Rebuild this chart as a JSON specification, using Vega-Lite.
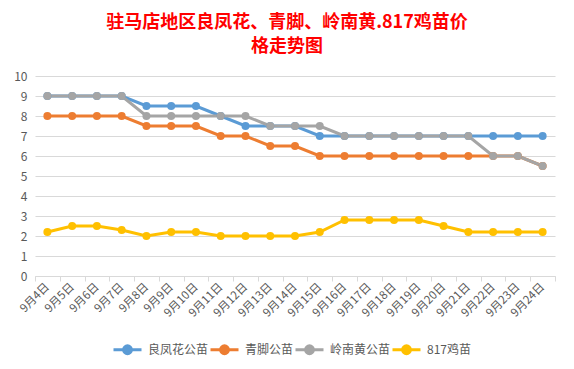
{
  "$schema": "https://vega.github.io/schema/vega-lite/v6.json",
  "autosize": "none",
  "width": 520,
  "height": 200,
  "padding": {"left": 35, "top": 76, "right": 19, "bottom": 93},
  "background": "white",
  "config": {
    "font": "Noto Sans CJK SC",
    "view": {"stroke": null}
  },
  "title": {
    "text": ["驻马店地区良凤花、青脚、岭南黄.817鸡苗价", "格走势图"],
    "fontSize": 18,
    "fontWeight": "bold",
    "color": "#FF0000",
    "lineHeight": 24,
    "anchor": "middle",
    "dx": -8,
    "offset": 14,
    "font": "Noto Sans CJK SC"
  },
  "data": {
    "values": [
      {"date": "9月4日", "series": "良凤花公苗", "price": 9},
      {"date": "9月5日", "series": "良凤花公苗", "price": 9},
      {"date": "9月6日", "series": "良凤花公苗", "price": 9},
      {"date": "9月7日", "series": "良凤花公苗", "price": 9},
      {"date": "9月8日", "series": "良凤花公苗", "price": 8.5},
      {"date": "9月9日", "series": "良凤花公苗", "price": 8.5},
      {"date": "9月10日", "series": "良凤花公苗", "price": 8.5},
      {"date": "9月11日", "series": "良凤花公苗", "price": 8},
      {"date": "9月12日", "series": "良凤花公苗", "price": 7.5},
      {"date": "9月13日", "series": "良凤花公苗", "price": 7.5},
      {"date": "9月14日", "series": "良凤花公苗", "price": 7.5},
      {"date": "9月15日", "series": "良凤花公苗", "price": 7},
      {"date": "9月16日", "series": "良凤花公苗", "price": 7},
      {"date": "9月17日", "series": "良凤花公苗", "price": 7},
      {"date": "9月18日", "series": "良凤花公苗", "price": 7},
      {"date": "9月19日", "series": "良凤花公苗", "price": 7},
      {"date": "9月20日", "series": "良凤花公苗", "price": 7},
      {"date": "9月21日", "series": "良凤花公苗", "price": 7},
      {"date": "9月22日", "series": "良凤花公苗", "price": 7},
      {"date": "9月23日", "series": "良凤花公苗", "price": 7},
      {"date": "9月24日", "series": "良凤花公苗", "price": 7},
      {"date": "9月4日", "series": "青脚公苗", "price": 8},
      {"date": "9月5日", "series": "青脚公苗", "price": 8},
      {"date": "9月6日", "series": "青脚公苗", "price": 8},
      {"date": "9月7日", "series": "青脚公苗", "price": 8},
      {"date": "9月8日", "series": "青脚公苗", "price": 7.5},
      {"date": "9月9日", "series": "青脚公苗", "price": 7.5},
      {"date": "9月10日", "series": "青脚公苗", "price": 7.5},
      {"date": "9月11日", "series": "青脚公苗", "price": 7},
      {"date": "9月12日", "series": "青脚公苗", "price": 7},
      {"date": "9月13日", "series": "青脚公苗", "price": 6.5},
      {"date": "9月14日", "series": "青脚公苗", "price": 6.5},
      {"date": "9月15日", "series": "青脚公苗", "price": 6},
      {"date": "9月16日", "series": "青脚公苗", "price": 6},
      {"date": "9月17日", "series": "青脚公苗", "price": 6},
      {"date": "9月18日", "series": "青脚公苗", "price": 6},
      {"date": "9月19日", "series": "青脚公苗", "price": 6},
      {"date": "9月20日", "series": "青脚公苗", "price": 6},
      {"date": "9月21日", "series": "青脚公苗", "price": 6},
      {"date": "9月22日", "series": "青脚公苗", "price": 6},
      {"date": "9月23日", "series": "青脚公苗", "price": 6},
      {"date": "9月24日", "series": "青脚公苗", "price": 5.5},
      {"date": "9月4日", "series": "岭南黄公苗", "price": 9},
      {"date": "9月5日", "series": "岭南黄公苗", "price": 9},
      {"date": "9月6日", "series": "岭南黄公苗", "price": 9},
      {"date": "9月7日", "series": "岭南黄公苗", "price": 9},
      {"date": "9月8日", "series": "岭南黄公苗", "price": 8},
      {"date": "9月9日", "series": "岭南黄公苗", "price": 8},
      {"date": "9月10日", "series": "岭南黄公苗", "price": 8},
      {"date": "9月11日", "series": "岭南黄公苗", "price": 8},
      {"date": "9月12日", "series": "岭南黄公苗", "price": 8},
      {"date": "9月13日", "series": "岭南黄公苗", "price": 7.5},
      {"date": "9月14日", "series": "岭南黄公苗", "price": 7.5},
      {"date": "9月15日", "series": "岭南黄公苗", "price": 7.5},
      {"date": "9月16日", "series": "岭南黄公苗", "price": 7},
      {"date": "9月17日", "series": "岭南黄公苗", "price": 7},
      {"date": "9月18日", "series": "岭南黄公苗", "price": 7},
      {"date": "9月19日", "series": "岭南黄公苗", "price": 7},
      {"date": "9月20日", "series": "岭南黄公苗", "price": 7},
      {"date": "9月21日", "series": "岭南黄公苗", "price": 7},
      {"date": "9月22日", "series": "岭南黄公苗", "price": 6},
      {"date": "9月23日", "series": "岭南黄公苗", "price": 6},
      {"date": "9月24日", "series": "岭南黄公苗", "price": 5.5},
      {"date": "9月4日", "series": "817鸡苗", "price": 2.2},
      {"date": "9月5日", "series": "817鸡苗", "price": 2.5},
      {"date": "9月6日", "series": "817鸡苗", "price": 2.5},
      {"date": "9月7日", "series": "817鸡苗", "price": 2.3},
      {"date": "9月8日", "series": "817鸡苗", "price": 2},
      {"date": "9月9日", "series": "817鸡苗", "price": 2.2},
      {"date": "9月10日", "series": "817鸡苗", "price": 2.2},
      {"date": "9月11日", "series": "817鸡苗", "price": 2},
      {"date": "9月12日", "series": "817鸡苗", "price": 2},
      {"date": "9月13日", "series": "817鸡苗", "price": 2},
      {"date": "9月14日", "series": "817鸡苗", "price": 2},
      {"date": "9月15日", "series": "817鸡苗", "price": 2.2},
      {"date": "9月16日", "series": "817鸡苗", "price": 2.8},
      {"date": "9月17日", "series": "817鸡苗", "price": 2.8},
      {"date": "9月18日", "series": "817鸡苗", "price": 2.8},
      {"date": "9月19日", "series": "817鸡苗", "price": 2.8},
      {"date": "9月20日", "series": "817鸡苗", "price": 2.5},
      {"date": "9月21日", "series": "817鸡苗", "price": 2.2},
      {"date": "9月22日", "series": "817鸡苗", "price": 2.2},
      {"date": "9月23日", "series": "817鸡苗", "price": 2.2},
      {"date": "9月24日", "series": "817鸡苗", "price": 2.2}
    ]
  },
  "mark": {"type": "line", "strokeWidth": 3, "point": {"filled": true, "size": 64}},
  "encoding": {
    "x": {
      "field": "date",
      "type": "nominal",
      "sort": null,
      "scale": {"type": "band", "paddingInner": 0, "paddingOuter": 0},
      "axis": {
        "title": null,
        "labelAngle": -45,
        "labelAlign": "right",
        "labelBaseline": "middle",
        "labelFontSize": 11.5,
        "labelColor": "#595959",
        "labelPadding": 4,
        "tickBand": "extent",
        "tickColor": "#D9D9D9",
        "tickSize": 5,
        "domainColor": "#D9D9D9",
        "grid": false
      }
    },
    "y": {
      "field": "price",
      "type": "quantitative",
      "scale": {"domain": [0, 10], "nice": false},
      "axis": {
        "title": null,
        "values": [0, 1, 2, 3, 4, 5, 6, 7, 8, 9, 10],
        "labelFontSize": 12,
        "labelColor": "#595959",
        "labelPadding": 8,
        "ticks": false,
        "domain": false,
        "gridColor": "#D9D9D9",
        "gridWidth": 1
      }
    },
    "color": {
      "field": "series",
      "type": "nominal",
      "sort": ["良凤花公苗", "青脚公苗", "岭南黄公苗", "817鸡苗"],
      "scale": {
        "domain": ["良凤花公苗", "青脚公苗", "岭南黄公苗", "817鸡苗"],
        "range": ["#5B9BD5", "#ED7D31", "#A5A5A5", "#FFC000"]
      },
      "legend": {
        "title": null,
        "orient": "none",
        "legendX": 77,
        "legendY": 258,
        "direction": "horizontal",
        "columns": 4,
        "labelFontSize": 12,
        "labelColor": "#595959",
        "labelOffset": 5,
        "columnPadding": -7,
        "symbolType": "M-1,0H1M-0.28,0A0.28,0.28 0 1 1 0.28,0A0.28,0.28 0 1 1 -0.28,0Z",
        "symbolSize": 784,
        "symbolStrokeWidth": 3,
        "encode": {
          "symbols": {
            "update": {
              "fill": {"scale": "color", "field": "value"},
              "stroke": {"scale": "color", "field": "value"}
            }
          }
        }
      }
    }
  }
}
